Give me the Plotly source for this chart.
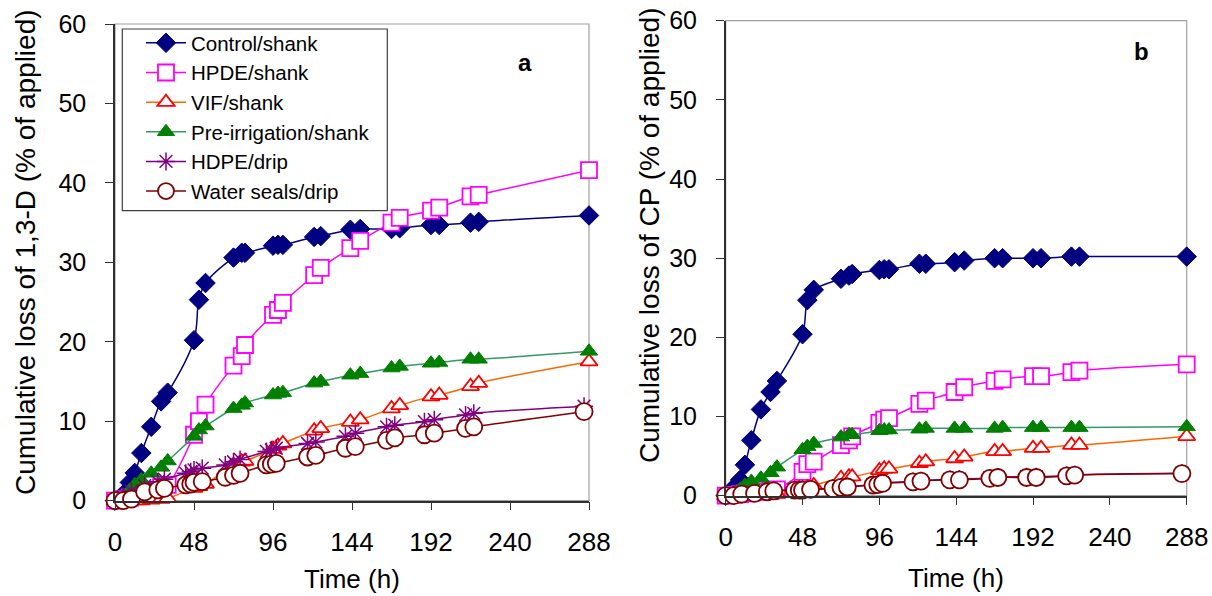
import plotly.graph_objects as go

# ---------------- data ----------------
t_shank = [0, 5, 9, 12, 16, 22, 28, 32, 48, 51, 55, 72, 77, 79, 96, 99, 102,
           121, 125, 143, 149, 168, 173, 192, 197, 216, 221, 288]
t_drip = [0, 5, 10, 18, 26, 30, 43, 46, 48, 53, 67, 72, 76, 92, 95, 98,
          117, 122, 140, 146, 165, 170, 188, 194, 213, 218, 285]

# panel a: 1,3-D
control_a = [0, 0.8, 2.3, 3.5, 6.0, 9.3, 12.5, 13.6, 20.2, 25.3, 27.4, 30.6, 31.2, 31.2,
             32.1, 32.2, 32.2, 33.2, 33.3, 34.1, 34.2, 34.2, 34.3, 34.7, 34.7, 35.0, 35.1, 35.9]
hpde_a = [0, 0.2, 0.4, 0.6, 0.9, 1.3, 1.7, 2.0, 8.3, 10.0, 12.1, 17.0, 18.2, 19.6,
          23.4, 24.0, 24.9, 28.4, 29.3, 31.8, 32.7, 35.0, 35.6, 36.5, 36.9, 38.3, 38.5, 41.6]
vif_a = [0, 0, 0, 0, 0, 0.1, 0.2, 0.3, 1.6, 1.8, 2.1, 4.5, 4.9, 5.0,
         6.5, 6.9, 7.2, 8.8, 9.1, 9.9, 10.2, 11.6, 12.0, 13.1, 13.3, 14.4, 14.8, 17.5]
preirr_a = [0, 0.5, 1.3, 2.0, 2.6, 3.45, 4.2, 5.0, 8.1, 8.9, 9.4, 11.6, 12.0, 12.3,
            13.3, 13.5, 13.6, 14.8, 15.0, 15.8, 16.0, 16.7, 16.9, 17.3, 17.4, 17.8, 17.8, 18.8]
hdpe_drip_a = [0, 0.5, 1.2, 1.9, 2.4, 2.7, 3.45, 3.65, 3.87, 4.1, 4.5, 4.9, 5.2, 6.2,
               6.4, 6.6, 7.2, 7.4, 8.1, 8.5, 9.3, 9.5, 9.95, 10.2, 10.8, 11.0, 11.9]
water_a = [0, 0, 0.2, 1.1, 1.35, 1.56, 2.0, 2.1, 2.3, 2.4, 2.95, 3.2, 3.45, 4.5,
           4.6, 4.7, 5.5, 5.7, 6.6, 6.8, 7.6, 7.9, 8.3, 8.5, 9.1, 9.3, 11.2]

# panel b: CP
control_b = [0, 1.0, 2.0, 3.9, 7.0, 10.9, 13.1, 14.5, 20.4, 24.7, 26.0, 27.4, 27.8, 28.0,
             28.5, 28.6, 28.6, 29.3, 29.3, 29.5, 29.7, 30.0, 30.0, 30.0, 30.0, 30.2, 30.2, 30.2]
hpde_b = [0, 0.1, 0.2, 0.3, 0.4, 0.5, 0.6, 0.8, 3.0, 4.0, 4.3, 6.4, 7.0, 7.5,
          9.2, 9.6, 9.8, 11.6, 12.0, 13.1, 13.7, 14.5, 14.7, 15.1, 15.1, 15.6, 15.8, 16.6]
vif_b = [0, 0, 0, 0, 0, 0, 0.1, 0.2, 0.8, 1.0, 1.3, 2.2, 2.4, 2.4,
         3.2, 3.4, 3.4, 4.1, 4.3, 4.7, 4.9, 5.6, 5.6, 6.0, 6.0, 6.4, 6.4, 7.5]
preirr_b = [0, 0.3, 0.8, 1.3, 1.8, 2.2, 2.9, 3.6, 5.8, 6.2, 6.6, 7.4, 7.7, 7.7,
            8.2, 8.3, 8.3, 8.4, 8.5, 8.5, 8.5, 8.5, 8.6, 8.6, 8.6, 8.6, 8.6, 8.7]
hdpe_drip_b = [0, 0.05, 0.25, 0.35, 0.55, 0.65, 0.75, 0.8, 0.8, 0.85, 0.95, 1.1, 1.15, 1.4,
               1.45, 1.6, 1.8, 1.9, 2.05, 2.1, 2.25, 2.35, 2.4, 2.4, 2.55, 2.65, 2.85]
water_b = [0, 0, 0.2, 0.3, 0.5, 0.6, 0.7, 0.7, 0.7, 0.8, 0.9, 1.05, 1.1, 1.35,
           1.4, 1.55, 1.75, 1.85, 2.0, 2.0, 2.2, 2.3, 2.3, 2.3, 2.5, 2.6, 2.8]

x_ticks = [0, 48, 96, 144, 192, 240, 288]
y_ticks = [0, 10, 20, 30, 40, 50, 60]

names = ["Control/shank", "HPDE/shank", "VIF/shank", "Pre-irrigation/shank",
         "HDPE/drip", "Water seals/drip"]

# ---------------- styles ----------------
styles = [
    dict(line=dict(color="#000080", width=1.5),
         marker=dict(symbol="diamond", size=15, color="#000080",
                     line=dict(color="#000080", width=1))),
    dict(line=dict(color="#FF00FF", width=1.5),
         marker=dict(symbol="square", size=16, color="white",
                     line=dict(color="#FF00FF", width=1.8))),
    dict(line=dict(color="#FF6600", width=1.5),
         marker=dict(symbol="triangle-up", size=15, color="white",
                     line=dict(color="#FF0000", width=1.8))),
    dict(line=dict(color="#339966", width=1.5),
         marker=dict(symbol="triangle-up", size=15, color="#008000",
                     line=dict(color="#008000", width=1))),
    dict(line=dict(color="#800080", width=1.5),
         marker=dict(symbol="asterisk-open", size=15, color="#800080",
                     line=dict(color="#800080", width=1.5))),
    dict(line=dict(color="#800000", width=1.5),
         marker=dict(symbol="circle", size=17, color="white",
                     line=dict(color="#800000", width=1.8))),
]

panel_a = [(t_shank, control_a), (t_shank, hpde_a), (t_shank, vif_a),
           (t_shank, preirr_a), (t_drip, hdpe_drip_a), (t_drip, water_a)]
panel_b = [(t_shank, control_b), (t_shank, hpde_b), (t_shank, vif_b),
           (t_shank, preirr_b), (t_drip, hdpe_drip_b), (t_drip, water_b)]

fig = go.Figure()
for i, (tx, vy) in enumerate(panel_a):
    fig.add_trace(go.Scatter(x=tx, y=vy, name=names[i], mode="lines+markers",
                             line_shape="spline", cliponaxis=False,
                             xaxis="x", yaxis="y", showlegend=True, **styles[i]))
for i, (tx, vy) in enumerate(panel_b):
    fig.add_trace(go.Scatter(x=tx, y=vy, name=names[i], mode="lines+markers",
                             line_shape="spline", cliponaxis=False,
                             xaxis="x2", yaxis="y2", showlegend=False, **styles[i]))

W, H = 1212, 596
# plot areas in pixels (left, right, top, bottom)
pa = (115, 589, 24, 500.7)
pb = (725.7, 1186.7, 20.7, 495.7)

def xdom(p):
    return [p[0] / W, p[1] / W]

def ydom(p):
    return [1 - p[3] / H, 1 - p[2] / H]

FONT = "Liberation Sans, Arial, sans-serif"
axis_common = dict(showgrid=False, zeroline=False, showline=True, automargin=False,
                   linecolor="#303030", linewidth=1.5, ticks="outside",
                   ticklen=8, tickwidth=1.2, tickcolor="#303030")

fig.update_layout(
    template="none",
    width=W, height=H, autosize=False,
    margin=dict(l=0, r=0, t=0, b=0, pad=0, autoexpand=False),
    paper_bgcolor="white", plot_bgcolor="white",
    font=dict(family=FONT, color="black"),
    xaxis=dict(domain=xdom(pa), range=[0, 288], tickvals=x_ticks, anchor="y",
               ticklabelstandoff=9, tickfont=dict(family=FONT, size=26, color="black"),
               **axis_common),
    yaxis=dict(domain=ydom(pa), range=[0, 60], tickvals=y_ticks, anchor="x",
               ticklabelstandoff=14, tickfont=dict(family=FONT, size=25, color="black"),
               **axis_common),
    xaxis2=dict(domain=xdom(pb), range=[0, 288], tickvals=x_ticks, anchor="y2",
                ticklabelstandoff=9, tickfont=dict(family=FONT, size=26, color="black"),
                **axis_common),
    yaxis2=dict(domain=ydom(pb), range=[0, 60], tickvals=y_ticks, anchor="x2",
                ticklabelstandoff=14, tickfont=dict(family=FONT, size=25, color="black"),
                **axis_common),
    legend=dict(x=141 / W, y=1 - 23 / H, xanchor="left", yanchor="top",
                bgcolor="rgba(0,0,0,0)", borderwidth=0,
                font=dict(family=FONT, size=20.5, color="black"),
                itemwidth=40),
)

# grey frames (top/right) around plot areas
for ax in ["x", "x2"]:
    yref = "y" if ax == "x" else "y2"
    fig.add_shape(type="rect", xref=f"{ax} domain", yref=f"{yref} domain",
                  x0=0, x1=1, y0=0, y1=1, line=dict(color="#A0A0A0", width=1.2),
                  layer="below")

# legend border
fig.add_shape(type="rect", xref="paper", yref="paper",
              x0=122.3 / W, x1=387.3 / W, y0=1 - 210.7 / H, y1=1 - 29 / H,
              line=dict(color="#404040", width=1.2), fillcolor="rgba(0,0,0,0)")

ann = []
# y-axis titles
ann.append(dict(text="Cumulative loss of 1,3-D (% of applied)", xref="paper", yref="paper",
                x=26 / W, y=1 - 252 / H, textangle=-90, showarrow=False,
                xanchor="center", yanchor="middle",
                font=dict(family=FONT, size=28, color="black")))
ann.append(dict(text="Cumulative loss of CP (% of applied)", xref="paper", yref="paper",
                x=649 / W, y=1 - 236 / H, textangle=-90, showarrow=False,
                xanchor="center", yanchor="middle",
                font=dict(family=FONT, size=28, color="black")))
# x-axis titles
ann.append(dict(text="Time (h)", xref="paper", yref="paper",
                x=352 / W, y=0, showarrow=False,
                xanchor="center", yanchor="bottom",
                font=dict(family=FONT, size=26, color="black")))
ann.append(dict(text="Time (h)", xref="paper", yref="paper",
                x=956 / W, y=1 - 578 / H, showarrow=False,
                xanchor="center", yanchor="middle",
                font=dict(family=FONT, size=26, color="black")))
# panel letters
ann.append(dict(text="<b>a</b>", xref="paper", yref="paper",
                x=525 / W, y=1 - 62 / H, showarrow=False,
                xanchor="center", yanchor="middle",
                font=dict(family=FONT, size=24, color="black")))
ann.append(dict(text="<b>b</b>", xref="paper", yref="paper",
                x=1141 / W, y=1 - 52 / H, showarrow=False,
                xanchor="center", yanchor="middle",
                font=dict(family=FONT, size=24, color="black")))
fig.update_layout(annotations=ann)

fig.write_html("out.html",
               config={"displayModeBar": False, "responsive": False},
               post_script="document.body.style.margin='0';"
                           "document.body.style.overflow='hidden';")
